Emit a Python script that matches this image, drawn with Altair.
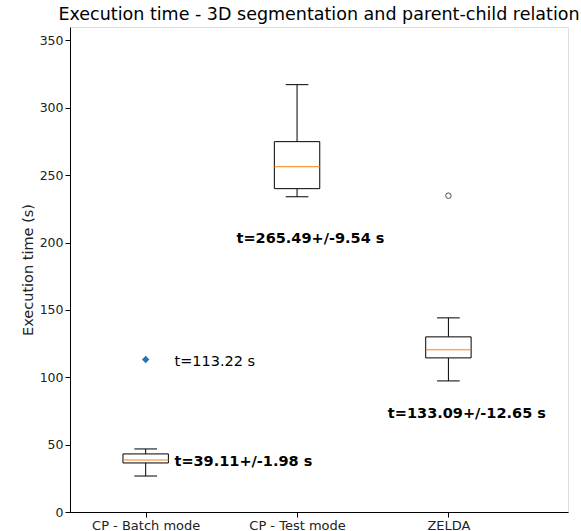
import altair as alt
import pandas as pd

# Box statistics per method (seconds)
categories = ["CP - Batch mode", "CP - Test mode", "ZELDA"]
positions = [1, 2, 3]
whisker_low = [26.7, 234.0, 97.3]
q1 = [36.4, 240.0, 114.4]
median = [38.6, 256.3, 120.4]
q3 = [43.1, 274.9, 130.0]
whisker_high = [46.8, 317.2, 144.1]

# Flier points beyond the whiskers
outlier_pos = [3]
outlier_val = [234.8]

# Single-run timing for batch mode
single_pos = [1]
single_val = [113.22]

# Annotations
label_text = ["t=113.22 s", "t=39.11+/-1.98 s", "t=265.49+/-9.54 s", "t=133.09+/-12.65 s"]
label_x = [1.19, 1.19, 1.6, 2.6]
label_y = [111, 37, 203, 73]
label_bold = [False, True, True, True]

BOX_HALF = 0.15
CAP_HALF = 0.075
FONT = "DejaVu Sans"

boxes = pd.DataFrame({
    "method": categories, "pos": positions, "lo": whisker_low, "q1": q1,
    "med": median, "q3": q3, "hi": whisker_high,
})
fliers = pd.DataFrame({"pos": outlier_pos, "val": outlier_val})
single = pd.DataFrame({"pos": single_pos, "val": single_val})
labels = pd.DataFrame({"text": label_text, "x": label_x, "y": label_y, "bold": label_bold})

label_expr = " : ".join(
    f"datum.value == {p} ? '{c}'" for p, c in zip(positions, categories)
) + " : ''"

x_scale = alt.Scale(domain=[0.5, 3.79], nice=False, zero=False)
y_scale = alt.Scale(domain=[0, 360], nice=False)

x_axis = alt.Axis(values=positions, labelExpr=label_expr, title=None, grid=False,
                  tickSize=5, labelPadding=2, labelFontSize=13, labelFont=FONT,
                  labelColor="#222222", tickColor="black", domainColor="black",
                  labelAngle=0)
y_axis = alt.Axis(values=list(range(0, 351, 50)), title="Execution time (s)", grid=False,
                  tickSize=5, labelPadding=2, labelFontSize=12.5, labelFont=FONT,
                  labelColor="#222222", tickColor="black", domainColor="black",
                  titleFont=FONT, titleFontSize=14.5, titleFontWeight="normal",
                  titleColor="#222222", titlePadding=4)

base = alt.Chart(boxes).transform_calculate(
    x0=f"datum.pos - {BOX_HALF}", x1=f"datum.pos + {BOX_HALF}",
    c0=f"datum.pos - {CAP_HALF}", c1=f"datum.pos + {CAP_HALF}",
)

box = base.mark_rect(fill="white", stroke="black", strokeWidth=1).encode(
    x=alt.X("x0:Q", scale=x_scale, axis=x_axis),
    x2="x1:Q",
    y=alt.Y("q1:Q", scale=y_scale, axis=y_axis),
    y2="q3:Q",
)
lower_whisker = base.mark_rule(color="black", strokeWidth=1).encode(
    x="pos:Q", y="lo:Q", y2="q1:Q")
upper_whisker = base.mark_rule(color="black", strokeWidth=1).encode(
    x="pos:Q", y="q3:Q", y2="hi:Q")
lower_cap = base.mark_rule(color="black", strokeWidth=1).encode(
    x="c0:Q", x2="c1:Q", y="lo:Q")
upper_cap = base.mark_rule(color="black", strokeWidth=1).encode(
    x="c0:Q", x2="c1:Q", y="hi:Q")
med_line = base.mark_rule(color="#ff7f0e", strokeWidth=1).encode(
    x="x0:Q", x2="x1:Q", y="med:Q")

flier_pts = alt.Chart(fliers).mark_point(
    shape="circle", filled=False, color="black", size=30, strokeWidth=1
).encode(x="pos:Q", y="val:Q")

single_pts = alt.Chart(single).mark_point(
    shape="diamond", filled=True, color="#1f77b4", size=55, opacity=1
).encode(x="pos:Q", y="val:Q")

text_normal = alt.Chart(labels).transform_filter("!datum.bold").mark_text(
    align="left", baseline="middle", font=FONT, fontSize=14.5, color="black"
).encode(x="x:Q", y="y:Q", text="text:N")
text_bold = alt.Chart(labels).transform_filter("datum.bold").mark_text(
    align="left", baseline="middle", font=FONT, fontSize=14.5, fontWeight="bold", color="black"
).encode(x="x:Q", y="y:Q", text="text:N")

chart = alt.layer(
    lower_whisker, upper_whisker, lower_cap, upper_cap, box, med_line,
    flier_pts, single_pts, text_normal, text_bold,
).properties(
    width=498, height=485,
    title=alt.TitleParams("Execution time - 3D segmentation and parent-child relation",
                          font=FONT, fontSize=17.5, fontWeight="normal", color="black",
                          anchor="middle", offset=4),
    autosize=alt.AutoSizeParams(type="none"),
    padding={"left": 70, "top": 27, "right": 13, "bottom": 19},
).configure_view(stroke="black", strokeWidth=1).configure(background="white")

chart.save("out.html", embed_options={"renderer": "svg", "actions": False})
